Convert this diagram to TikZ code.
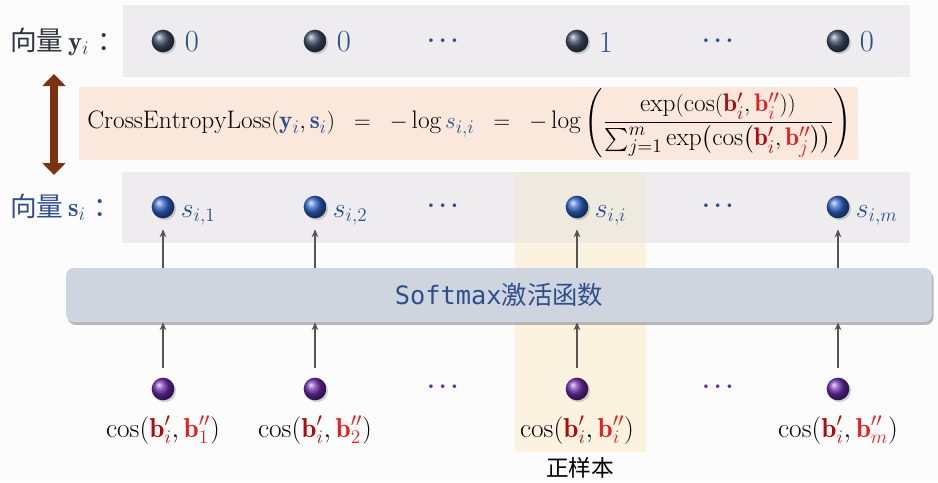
\documentclass[tikz,border=0pt]{standalone}
\usepackage{amsmath}
\usepackage{fontspec}
\setmonofont{DejaVu Sans Mono}
\newfontfamily\cjk{Noto Sans CJK SC}
\usetikzlibrary{arrows.meta,shadows,calc}
\definecolor{bgc}{HTML}{FDFCFD}
\definecolor{bandc}{HTML}{EEECEF}
\definecolor{pinkc}{HTML}{FAE8DC}
\definecolor{hlc}{HTML}{FBF2DF}
\definecolor{hlbandc}{HTML}{EEEAE0}
\definecolor{softc}{HTML}{CED5DF}
\definecolor{navyc}{HTML}{2E4E8C}
\definecolor{darkc}{HTML}{2E3440}
\definecolor{brownc}{HTML}{7A3210}
\definecolor{arrc}{HTML}{555555}
\definecolor{bpc}{HTML}{B00A0A}
\definecolor{bppc}{HTML}{E81E1E}
\definecolor{purpc}{HTML}{6B2FA0}
\definecolor{topballc}{HTML}{3E4E66}
\definecolor{midballc}{HTML}{2F62C8}
\definecolor{botballc}{HTML}{6B2CA8}
\newcommand\myBp{\textcolor{bpc}{\mathbf{b}'_{i}}}
\newcommand\myBpp[1]{\textcolor{bppc}{\mathbf{b}''_{#1}}}
\begin{document}
\begin{tikzpicture}[x=0.75pt,y=-0.75pt,
  ballbase/.style={circle,inner sep=0pt,minimum size=17pt,
    drop shadow={shadow xshift=1.3pt,shadow yshift=-1.3pt,opacity=0.35}},
  topball/.style={ballbase,ball color=topballc},
  midball/.style={ballbase,ball color=midballc},
  botball/.style={ballbase,ball color=botballc},
  numtxt/.style={inner sep=0pt,anchor=west,text=navyc,font=\fontsize{23}{26}\selectfont},
  slab/.style={inner sep=0pt,anchor=base west,text=navyc,font=\fontsize{21}{24}\selectfont},
  dotsn/.style={inner sep=0pt,font=\fontsize{17}{20}\selectfont},
  coslab/.style={inner sep=0pt,anchor=base,font=\fontsize{20.5}{22}\selectfont},
  veclab/.style={inner sep=0pt,anchor=west,font=\fontsize{20}{24}\selectfont},
  arr/.style={draw=arrc,line width=1.1pt,-{Stealth[length=6pt,width=5pt]}},
  softbox/.style={rounded corners=6pt,fill=softc,minimum width=649.5pt,minimum height=40.5pt,
    drop shadow={shadow xshift=1.2pt,shadow yshift=-2.2pt,opacity=0.55},
    text=navyc,font=\fontsize{19}{22}\selectfont}
]
\useasboundingbox (0,0) rectangle (938,482);
\fill[bgc] (0,0) rectangle (938,482);
% bands
\fill[bandc] (123,5) rectangle (910,77);
\fill[pinkc] (79,87) rectangle (858,160);
\fill[bandc] (122,172) rectangle (910,243);
\fill[hlbandc] (515,172) rectangle (646,243);
\fill[hlc] (515,243) rectangle (646,452);
% softmax box
\node[softbox] (soft) at (499,295) {{\ttfamily Softmax}{\cjk 激活函数}};
% labels
\node[veclab,text=darkc] (ly) at (10,42) {{\cjk 向量}\,$\mathbf{y}_i$\hspace{6pt}{\cjk ：}};
\node[veclab,text=navyc] (ls) at (10,207) {{\cjk 向量}\,$\mathbf{s}_i$\hspace{6pt}{\cjk ：}};
% balls
\foreach \n/\x in {1/163,2/315,3/577,4/838}{
  \node[topball] (y\n) at (\x,41) {};
  \node[midball] (s\n) at (\x,207) {};
  \node[botball] (p\n) at (\x,389) {};
  \draw[arr,shorten <=7pt] (p\n.north) -- (p\n |- soft.south);
  \draw[arr,shorten >=8pt] (s\n |- soft.north) -- (s\n.south);
}
% numbers
\node[numtxt] (n1) at ($(y1.east)+(10,1)$) {0};
\node[numtxt] (n2) at ($(y2.east)+(10,1)$) {0};
\node[numtxt] (n3) at ($(y3.east)+(10,1)$) {1};
\node[numtxt] (n4) at ($(y4.east)+(10,1)$) {0};
% s labels
\node[slab] (sl1) at ($(s1.east)+(6,10)$) {$s_{i,1}$};
\node[slab] (sl2) at ($(s2.east)+(6,10)$) {$s_{i,2}$};
\node[slab] (sl3) at ($(s3.east)+(6,10)$) {$s_{i,i}$};
\node[slab] (sl4) at ($(s4.east)+(6,10)$) {$s_{i,m}$};
% dots
\node[dotsn,text=navyc] (d1) at (445,41) {$\boldsymbol{\cdots}$};
\node[dotsn,text=navyc] (d2) at (720,41) {$\boldsymbol{\cdots}$};
\node[dotsn,text=navyc] (d3) at (445,206) {$\boldsymbol{\cdots}$};
\node[dotsn,text=navyc] (d4) at (720,206) {$\boldsymbol{\cdots}$};
\node[dotsn,text=purpc] (d5) at (445,387) {$\boldsymbol{\cdots}$};
\node[dotsn,text=purpc] (d6) at (720,387) {$\boldsymbol{\cdots}$};
% cos labels
\node[coslab] (c1) at (163,437) {$\cos(\myBp,\myBpp{1})$};
\node[coslab] (c2) at (315,437) {$\cos(\myBp,\myBpp{2})$};
\node[coslab] (c3) at (577,437) {$\cos(\myBp,\myBpp{i})$};
\node[coslab] (c4) at (838,437) {$\cos(\myBp,\myBpp{m})$};
\node[inner sep=0pt,font=\fontsize{17}{20}\selectfont] (pos) at (580,468) {\cjk 正样本};
% formula
\node[inner sep=0pt,anchor=west,font=\fontsize{19}{22}\selectfont] (loss) at (87,123)
 {$\mathrm{CrossEntropyLoss}(\textcolor{navyc}{\mathbf{y}_i},\textcolor{navyc}{\mathbf{s}_i})
 \;\;=\;\;-\log\textcolor{navyc}{s_{i,i}}\;\;=\;\;-\log\left(\dfrac{\exp(\cos(\myBp,\myBpp{i}))}
 {\sum\nolimits_{j=1}^{m}\exp\bigl(\cos\bigl(\myBp,\myBpp{j}\bigr)\bigr)}\right)$};
% brown double arrow
\coordinate (bt) at (54,74);
\coordinate (bb) at (54,175);
\draw[brownc,line width=6.5pt,{Triangle[length=9pt,width=17pt]}-{Triangle[length=9pt,width=17pt]}] (bt) -- (bb);
\end{tikzpicture}
\end{document}
